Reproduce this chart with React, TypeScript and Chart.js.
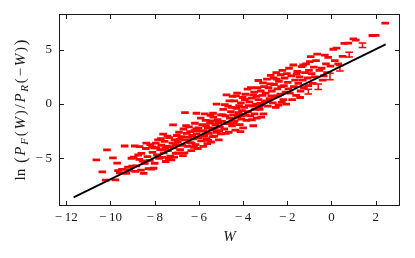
import React, { useEffect, useRef } from 'react';
import { Chart, registerables } from 'chart.js';
Chart.register(...registerables);

// ---- data (W, ln ratio) ----
const DASH_POINTS: number[][] = [
  [-10.64,-5.15],[-10.37,-6.26],[-10.16,-4.23],[-10.22,-7.02],
  [-9.89,-4.97],[-9.78,-7.0],[-9.66,-6.14],[-9.48,-6.02],[-9.36,-3.87],[-9.28,-6.38],[-9.21,-5.83],[-9.05,-5.0],[-9.15,-6.12],[-9.58,-6.35],[-9.02,-5.72],[-9.7,-5.45],
  [-8.95,-4.9],[-8.9,-3.87],[-8.83,-5.7],[-8.75,-4.7],[-8.68,-3.93],[-8.6,-4.55],[-8.55,-5.25],[-8.45,-5.46],[-8.4,-4.1],[-8.33,-4.85],[-8.28,-5.95],[-8.2,-3.75],[-8.15,-6.0],[-8.1,-4.45],[-8.05,-5.92],[-8.0,-5.46],[-8.02,-4.05],[-8.88,-6.2],[-8.5,-6.4],[-8.38,-3.6],[-8.22,-5.2],[-8.12,-3.95],[-8.7,-5.1],[-8.62,-6.1],
  [-7.95,-3.6],[-7.9,-4.7],[-7.85,-3.3],[-7.8,-5.0],[-7.75,-4.2],[-7.7,-3.8],[-7.62,-2.78],[-7.6,-4.5],[-7.55,-3.45],[-7.5,-5.3],[-7.45,-3.9],[-7.4,-4.3],[-7.35,-3.1],[-7.3,-4.8],[-7.24,-5.15],[-7.2,-3.6],[-7.17,-1.92],[-7.15,-4.05],[-7.1,-3.3],[-7.05,-4.55],[-7.0,-2.9],[-7.92,-4.05],[-7.66,-4.92],[-7.42,-2.95],[-7.28,-3.95],[-7.12,-4.9],[-7.72,-3.2],[-7.52,-4.1],[-7.36,-5.02],[-7.06,-3.75],
  [-6.95,-3.5],[-6.9,-2.6],[-6.85,-4.2],[-6.8,-3.0],[-6.75,-3.8],[-6.7,-2.3],[-6.65,-4.5],[-6.6,-3.3],[-6.55,-2.7],[-6.5,-3.9],[-6.45,-2.1],[-6.4,-3.55],[-6.35,-4.3],[-6.3,-2.9],[-6.25,-3.2],[-6.2,-2.45],[-6.18,-1.77],[-6.15,-3.75],[-6.1,-2.75],[-6.05,-4.1],[-6.0,-3.1],[-6.02,-2.2],[-6.88,-3.25],[-6.72,-4.75],[-6.58,-2.0],[-6.48,-3.05],[-6.33,-3.6],[-6.22,-4.0],[-6.12,-2.3],[-6.63,-0.8],[-6.4,-2.55],[-6.95,-4.5],[-6.11,-0.85],
  [-5.95,-2.5],[-5.9,-3.4],[-5.85,-1.9],[-5.8,-3.9],[-5.75,-2.9],[-5.7,-1.5],[-5.65,-3.2],[-5.6,-2.2],[-5.55,-2.7],[-5.5,-1.75],[-5.45,-3.5],[-5.4,-2.4],[-5.35,-1.2],[-5.3,-2.95],[-5.25,-1.9],[-5.2,0.0],[-5.2,-2.6],[-5.15,-1.45],[-5.1,-3.3],[-5.05,-2.1],[-5.0,-1.0],[-5.0,-2.75],[-5.92,-1.3],[-5.78,-2.45],[-5.62,-3.65],[-5.48,-1.05],[-5.38,-3.0],[-5.28,-2.2],[-5.12,-1.7],[-5.68,-2.0],[-5.42,-1.55],[-5.08,-2.45],[-5.73,-0.9],[-5.36,-0.85],[-5.58,-3.35],
  [-4.95,-1.6],[-4.9,-0.5],[-4.85,-2.3],[-4.8,-1.1],[-4.75,0.84],[-4.72,-1.8],[-4.68,-0.2],[-4.65,-2.6],[-4.6,-1.3],[-4.55,-0.7],[-4.5,-2.0],[-4.45,-1.0],[-4.4,0.3],[-4.38,-1.55],[-4.35,-2.4],[-4.3,-0.4],[-4.27,1.0],[-4.25,-1.2],[-4.2,-0.8],[-4.15,-1.9],[-4.1,0.1],[-4.08,-1.4],[-4.05,-0.6],[-4.0,-2.2],[-4.02,0.6],[-4.92,-1.0],[-4.78,-2.7],[-4.62,0.3],[-4.52,-0.3],[-4.42,-1.75],[-4.32,0.75],[-4.18,-0.15],[-4.12,-2.55],[-4.58,-1.75],[-4.48,0.7],[-4.22,-1.0],[-4.83,-0.05],[-4.06,-1.1],
  [-3.95,-0.3],[-3.9,0.9],[-3.85,-1.5],[-3.8,1.37],[-3.78,-0.7],[-3.72,0.2],[-3.68,-1.1],[-3.62,0.55],[-3.58,-0.2],[-3.54,-2.0],[-3.5,1.1],[-3.48,-0.9],[-3.42,0.0],[-3.38,-1.3],[-3.31,2.17],[-3.3,0.4],[-3.25,-0.5],[-3.2,1.2],[-3.15,-0.1],[-3.12,0.8],[-3.08,-0.9],[-3.05,1.6],[-3.02,0.2],[-3.92,0.4],[-3.75,-0.15],[-3.65,1.5],[-3.55,0.85],[-3.45,-0.5],[-3.35,1.5],[-3.22,0.05],[-3.18,-1.2],[-3.1,1.95],[-3.88,-1.0],[-3.6,-1.45],[-3.4,0.7],[-3.28,-0.25],
  [-2.98,1.0],[-2.92,2.3],[-2.88,-0.2],[-2.85,1.5],[-2.8,0.5],[-2.75,2.65],[-2.7,1.2],[-2.65,0.1],[-2.6,1.8],[-2.55,0.7],[-2.5,2.9],[-2.45,1.4],[-2.4,-0.1],[-2.38,2.1],[-2.32,0.9],[-2.28,1.6],[-2.22,3.1],[-2.18,0.4],[-2.12,2.4],[-2.08,1.1],[-2.05,0.0],[-2.02,2.8],[-2.95,0.3],[-2.78,1.85],[-2.62,2.4],[-2.52,-0.3],[-2.42,0.75],[-2.3,2.7],[-2.15,1.7],[-2.72,0.75],[-2.48,2.3],[-2.25,0.15],
  [-1.98,2.0],[-1.92,3.3],[-1.88,1.0],[-1.82,2.6],[-1.73,3.6],[-1.7,1.6],[-1.65,2.2],[-1.6,0.8],[-1.55,3.0],[-1.5,1.9],[-1.45,2.5],[-1.4,1.2],[-1.35,3.45],[-1.3,2.2],[-1.25,1.5],[-1.2,2.9],[-1.15,3.7],[-1.08,2.4],[-1.05,1.7],[-1.02,3.1],[-1.95,1.4],[-1.78,0.4],[-1.58,2.75],[-1.42,0.6],[-1.28,3.6],
  [-0.98,3.91],[-0.94,4.37],[-0.9,2.8],[-0.85,1.9],[-0.8,3.4],[-0.75,2.5],[-0.7,4.0],[-0.55,3.1],[-0.45,3.3],[-0.4,2.2],[-0.3,4.5],[-0.25,3.7],[-0.2,2.9],[-0.15,4.3],[-0.05,3.5],[-0.65,4.6],[-0.35,2.6],
  [0.08,5.05],[0.15,4.0],[0.23,5.15],[0.3,3.7],[0.5,4.4],[0.58,5.6],[0.76,5.62],[0.99,6.0],[1.1,5.9],[1.85,6.32],[2.0,6.33],[2.43,7.46],
];
const DASH_ERR = 0.06;

// points whose vertical error bar is visible: [W, ln ratio, error]
const BAR_POINTS: number[][] = [
  [-1.05,1.14,0.22],[-0.6,1.6,0.25],[-0.07,2.53,0.3],[0.38,3.3,0.25],[0.8,4.55,0.22],[1.4,5.42,0.2],
];

// fitted line
const FIT_W = [-11.67, 2.45];
const FIT_LN = [-8.6, 5.5];

const X_TICKS = [-12, -10, -8, -6, -4, -2, 0, 2];
const Y_TICKS = [-5, 0, 5];
const X_RANGE = [-12.33, 3.1];
const Y_RANGE = [-9.4, 8.3];

const RED = '#ff0000';
const INK = '#1a1a1a';
const SERIF = '"Liberation Serif", "DejaVu Serif", serif';

const fmt = (v: number) => (v < 0 ? '\u2212\u2009' + Math.abs(v) : String(v));

const errPlugin = {
  id: 'errbars',
  beforeDatasetsDraw(chart: any) {
    const { ctx } = chart;
    const xs = chart.scales.x, ys = chart.scales.y;
    const half = 3.8;
    ctx.save();
    ctx.strokeStyle = RED;
    ctx.lineWidth = 1.5;
    const draw = (w: number, v: number, e: number) => {
      const px = xs.getPixelForValue(w);
      const pT = ys.getPixelForValue(v + e);
      const pB = ys.getPixelForValue(v - e);
      ctx.beginPath();
      ctx.moveTo(px, pT); ctx.lineTo(px, pB);
      ctx.moveTo(px - half, pT); ctx.lineTo(px + half, pT);
      ctx.moveTo(px - half, pB); ctx.lineTo(px + half, pB);
      ctx.stroke();
    };
    DASH_POINTS.forEach(([w, v]) => draw(w, v, DASH_ERR));
    BAR_POINTS.forEach(([w, v, e]) => draw(w, v, e));
    ctx.restore();
  },
};

const framePlugin = {
  id: 'frame',
  afterDraw(chart: any) {
    const { ctx, chartArea: a } = chart;
    const xs = chart.scales.x, ys = chart.scales.y;
    const tl = 5;
    ctx.save();
    ctx.strokeStyle = INK;
    ctx.lineWidth = 1;
    ctx.strokeRect(a.left + 0.5, a.top + 0.5, a.right - a.left - 1, a.bottom - a.top - 1);
    ctx.beginPath();
    X_TICKS.forEach((t) => {
      const px = Math.round(xs.getPixelForValue(t)) + 0.5;
      ctx.moveTo(px, a.bottom); ctx.lineTo(px, a.bottom - tl);
      ctx.moveTo(px, a.top); ctx.lineTo(px, a.top + tl);
    });
    Y_TICKS.forEach((t) => {
      const py = Math.round(ys.getPixelForValue(t)) + 0.5;
      ctx.moveTo(a.left, py); ctx.lineTo(a.left + tl, py);
      ctx.moveTo(a.right, py); ctx.lineTo(a.right - tl, py);
    });
    ctx.stroke();

    ctx.fillStyle = INK;
    ctx.font = `13px ${SERIF}`;
    ctx.textBaseline = 'middle';
    ctx.textAlign = 'center';
    X_TICKS.forEach((t) => ctx.fillText(fmt(t), xs.getPixelForValue(t), a.bottom + 12));
    ctx.textAlign = 'right';
    Y_TICKS.forEach((t) => ctx.fillText(fmt(t), a.left - 7, ys.getPixelForValue(t)));

    // x title
    ctx.textAlign = 'center';
    ctx.font = `italic 15px ${SERIF}`;
    ctx.fillText('W', (a.left + a.right) / 2, 237);

    // y title (rich text)
    const segs: { t: string; f: string; dy: number; gap?: number }[] = [
      { t: 'ln', f: `15px ${SERIF}`, dy: 0, gap: 4 },
      { t: '(', f: `17px ${SERIF}`, dy: 0.5 },
      { t: 'P', f: `italic 15px ${SERIF}`, dy: 0 },
      { t: 'F', f: `italic 11px ${SERIF}`, dy: 3 },
      { t: '(', f: `15px ${SERIF}`, dy: 0 },
      { t: 'W', f: `italic 15px ${SERIF}`, dy: 0 },
      { t: ')', f: `15px ${SERIF}`, dy: 0 },
      { t: '/', f: `15px ${SERIF}`, dy: 0 },
      { t: 'P', f: `italic 15px ${SERIF}`, dy: 0 },
      { t: 'R', f: `italic 11px ${SERIF}`, dy: 3 },
      { t: '(', f: `15px ${SERIF}`, dy: 0 },
      { t: '\u2212', f: `15px ${SERIF}`, dy: 0 },
      { t: 'W', f: `italic 15px ${SERIF}`, dy: 0 },
      { t: ')', f: `15px ${SERIF}`, dy: 0 },
      { t: ')', f: `17px ${SERIF}`, dy: 0.5 },
    ];
    const target = 141;
    let natural = 0;
    const widths = segs.map((s) => {
      ctx.font = s.f;
      const w = ctx.measureText(s.t).width;
      natural += w + (s.gap || 0);
      return w;
    });
    const extra = Math.max(0, (target - natural) / (segs.length - 1));
    const total = natural + extra * (segs.length - 1);
    ctx.translate(21, (a.top + a.bottom) / 2);
    ctx.rotate(-Math.PI / 2);
    ctx.textAlign = 'left';
    ctx.textBaseline = 'alphabetic';
    let cx = -total / 2;
    segs.forEach((s, i) => {
      ctx.font = s.f;
      ctx.fillText(s.t, cx, 4 + s.dy);
      cx += widths[i] + (s.gap || 0) + extra;
    });
    ctx.restore();
  },
};

export default function App() {
  const ref = useRef<HTMLCanvasElement>(null);
  useEffect(() => {
    const canvas = ref.current!;
    const chart = new Chart(canvas, {
      type: 'scatter',
      data: {
        datasets: [
          { data: DASH_POINTS.map(([w, v]) => ({ x: w, y: v })), pointRadius: 0, showLine: false },
          { data: BAR_POINTS.map(([w, v]) => ({ x: w, y: v })), pointRadius: 0, showLine: false },
          {
            data: FIT_W.map((w, i) => ({ x: w, y: FIT_LN[i] })),
            showLine: true,
            borderColor: '#000',
            borderWidth: 1.8,
            pointRadius: 0,
          },
        ],
      },
      options: {
        responsive: false,
        animation: false,
        layout: { padding: { top: 14, right: 15, left: 0, bottom: 0 } },
        plugins: { legend: { display: false }, tooltip: { enabled: false } },
        scales: {
          x: {
            type: 'linear',
            min: X_RANGE[0],
            max: X_RANGE[1],
            grid: { display: false },
            border: { display: false },
            ticks: { display: false },
            afterFit(s: any) { s.height = 52; },
          },
          y: {
            type: 'linear',
            min: Y_RANGE[0],
            max: Y_RANGE[1],
            grid: { display: false },
            border: { display: false },
            ticks: { display: false },
            afterFit(s: any) { s.width = 59; },
          },
        },
      } as any,
      plugins: [errPlugin, framePlugin],
    });
    return () => chart.destroy();
  }, []);
  return (
    <div style={{ position: 'absolute', left: 0, top: 0, width: 415, height: 258, background: '#fff' }}>
      <canvas ref={ref} width={415} height={258} style={{ width: 415, height: 258, display: 'block' }} />
    </div>
  );
}
